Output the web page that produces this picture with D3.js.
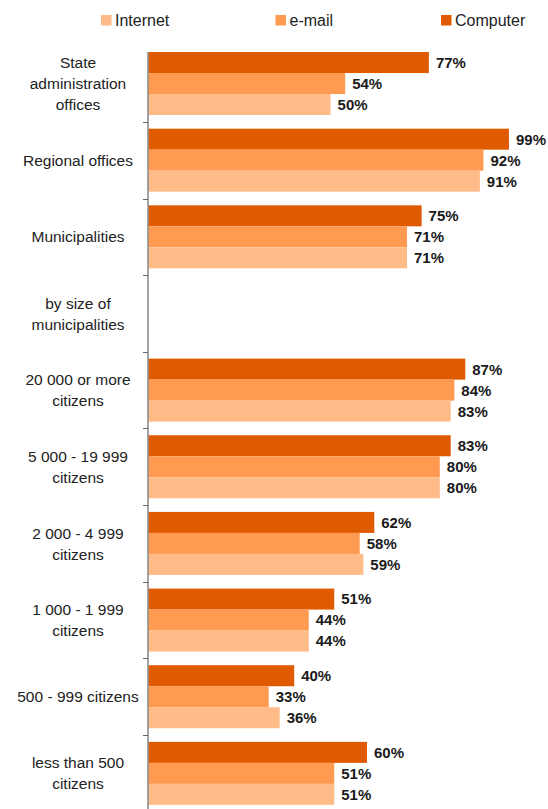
<!DOCTYPE html>
<html><head><meta charset="utf-8">
<script src="https://cdn.jsdelivr.net/npm/d3@7"></script>
<style>body{margin:0;background:#fff}</style>
</head><body><div id="chart"></div>
<script>
const categories = [
  ["State","administration","offices"],
  ["Regional offices"],
  ["Municipalities"],
  ["by size of","municipalities"],
  ["20 000 or more","citizens"],
  ["5 000 - 19 999","citizens"],
  ["2 000 - 4 999","citizens"],
  ["1 000 - 1 999","citizens"],
  ["500 - 999 citizens"],
  ["less than 500","citizens"]
];
const seriesNames = ["Computer","e-mail","Internet"];
const computer = [77, 99, 75, null, 87, 83, 62, 51, 40, 60];
const email    = [54, 92, 71, null, 84, 80, 58, 44, 33, 51];
const internet = [50, 91, 71, null, 83, 80, 59, 44, 36, 51];
const legendOrder = ["Internet","e-mail","Computer"];

const colors = {"Computer":"#E05A00","e-mail":"#FF9A50","Internet":"#FFBB88"};
const seriesVals = {"Computer":computer,"e-mail":email,"Internet":internet};

const W = 548, H = 809;
const svg = d3.select("#chart").append("svg").attr("width",W).attr("height",H)
  .style("font-family","'Liberation Sans', Arial, sans-serif");

const idx = d3.range(categories.length);
const y = d3.scaleBand().domain(idx).range([45.2, 811.7]).paddingInner(0).paddingOuter(0);
const yi = d3.scaleBand().domain(seriesNames).range([0, y.bandwidth()]).paddingInner(0).paddingOuter(0.325);
const x = d3.scaleLinear().domain([0,100]).range([148.6, 512.6]);

// bars
seriesNames.forEach(s => {
  const vals = seriesVals[s];
  const g = svg.append("g");
  g.selectAll("rect").data(idx.filter(i => vals[i] != null)).enter().append("rect")
    .attr("x", x(0)).attr("y", i => y(i) + yi(s))
    .attr("width", i => x(vals[i]) - x(0)).attr("height", yi.bandwidth())
    .attr("fill", colors[s]);
  g.selectAll("text").data(idx.filter(i => vals[i] != null)).enter().append("text")
    .attr("x", i => x(vals[i]) + 7).attr("y", i => y(i) + yi(s) + yi.bandwidth()/2)
    .attr("dy","0.36em").attr("font-size",15).attr("font-weight","bold").attr("fill","#1a1a1a")
    .text(i => vals[i] + "%");
});

// axis
svg.append("line").attr("x1",148).attr("x2",148).attr("y1",52).attr("y2",H)
  .attr("stroke","#666").attr("stroke-width",1.2);
svg.append("g").selectAll("line").data(idx.slice(1)).enter().append("line")
  .attr("x1",143).attr("x2",148).attr("y1",i=>Math.round(y(i))+0.5).attr("y2",i=>Math.round(y(i))+0.5)
  .attr("stroke","#666").attr("stroke-width",1);

// category labels
const lh = 21;
idx.forEach(i => {
  const lines = categories[i];
  const cy = y(i) + y.bandwidth()/2;
  const t = svg.append("text").attr("x",78).attr("text-anchor","middle")
    .attr("font-size",15.5).attr("fill","#222");
  lines.forEach((ln,k) => {
    t.append("tspan").attr("x",78).attr("y", cy + (k - (lines.length-1)/2)*lh).attr("dy","0.36em").text(ln);
  });
});

// legend
const legX = {"Internet":101, "e-mail":275.5, "Computer":441};
legendOrder.forEach(s => {
  svg.append("rect").attr("x",legX[s]).attr("y",15).attr("width",10.5).attr("height",10.5).attr("fill",colors[s]);
  svg.append("text").attr("x",legX[s]+14).attr("y",20.5).attr("dy","0.36em")
    .attr("font-size",16).attr("fill","#222").text(s);
});
</script></body></html>
